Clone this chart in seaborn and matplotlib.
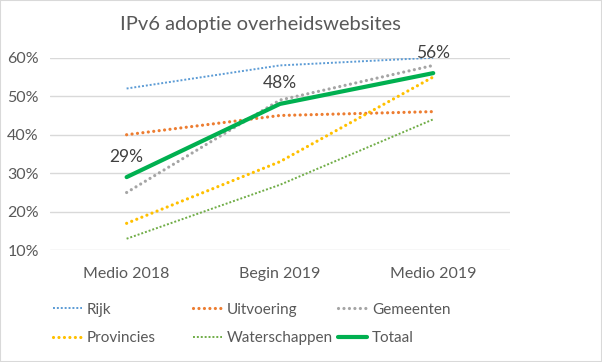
import numpy as np
import pandas as pd
import matplotlib.pyplot as plt
import seaborn as sns
from matplotlib.patches import Rectangle

periods = ['Medio 2018', 'Begin 2019', 'Medio 2019']
rijk = [52, 58, 60]
uitvoering = [40, 45, 46]
gemeenten = [25, 49, 58]
provincies = [17, 33, 55]
waterschappen = [13, 27, 44]
totaal = [29, 48, 56]

series = ['Rijk', 'Uitvoering', 'Gemeenten', 'Provincies', 'Waterschappen', 'Totaal']
values = [rijk, uitvoering, gemeenten, provincies, waterschappen, totaal]
colors = ['#5B9BD5', '#ED7D31', '#A5A5A5', '#FFC000', '#70AD47', '#00B050']
widths = [1.4, 2.3, 2.3, 2.3, 1.4, 3.0]

sns.set_theme(style='white')
plt.rcParams['font.family'] = ['Lato', 'DejaVu Sans']
txt = '#595959'

fig = plt.figure(figsize=(6.02, 3.62), dpi=100)
ax = fig.add_axes([0.083, 0.3086, 0.764, 0.532])

df = pd.DataFrame({
    'x': np.tile(np.arange(len(periods)), len(series)),
    'y': np.concatenate(values) / 100,
    'serie': np.repeat(series, len(periods)),
})

handles = {}
for name, c, lw in zip(series, colors, widths):
    sub = df[df['serie'] == name]
    sns.lineplot(data=sub, x='x', y='y', ax=ax, color=c, linewidth=lw, label=name)
    line = ax.lines[-1]
    if name != 'Totaal':
        if lw > 2:
            line.set_dashes((0.01, 1.7))
        else:
            line.set_dashes((1, 1))
        line.set_dash_capstyle('round' if lw > 2 else 'butt')
    handles[name] = line
ax.get_legend().remove()

for i, v in enumerate(totaal):
    ax.annotate(f'{v}%', (i, v / 100), xytext=(0, 9), textcoords='offset points',
                ha='center', va='bottom', fontsize=12.5, color='#404040')

ax.set_xlim(-0.5, 2.5)
ax.set_ylim(0.1, 0.6)
ax.set_yticks(np.arange(0.1, 0.61, 0.1))
ax.set_yticklabels([f'{int(round(t*100))}%' for t in np.arange(0.1, 0.61, 0.1)])
ax.set_xticks(range(len(periods)))
ax.set_xticklabels(periods)
ax.tick_params(axis='both', labelsize=11.5, colors=txt, length=0)
ax.tick_params(axis='x', pad=12)
ax.tick_params(axis='y', pad=8)
ax.grid(axis='y', color='#D9D9D9', linewidth=1)
ax.set_axisbelow(True)
for s in ax.spines.values():
    s.set_visible(False)
ax.set_xlabel('')
ax.set_ylabel('')

fig.text(0.433, 0.931, 'IPv6 adoptie overheidswebsites', ha='center', va='center',
         fontsize=14.5, color=txt)

# three legend columns of equal width, like the original
cols = [['Rijk', 'Provincies'], ['Uitvoering', 'Waterschappen'], ['Gemeenten', 'Totaal']]
xs = [0.088, 0.321, 0.562]
for names, x0 in zip(cols, xs):
    fig.legend([handles[n] for n in names], names, loc='center left',
               bbox_to_anchor=(x0, 0.105), frameon=False, fontsize=11,
               labelcolor=txt, handlelength=1.9, handletextpad=0.3,
               labelspacing=0.95, borderpad=0, borderaxespad=0)

fig.patches.append(Rectangle((0, 0), 1, 1, transform=fig.transFigure, fill=False,
                             edgecolor='#D9D9D9', linewidth=1.5))

fig.savefig('out.png', dpi=100)
